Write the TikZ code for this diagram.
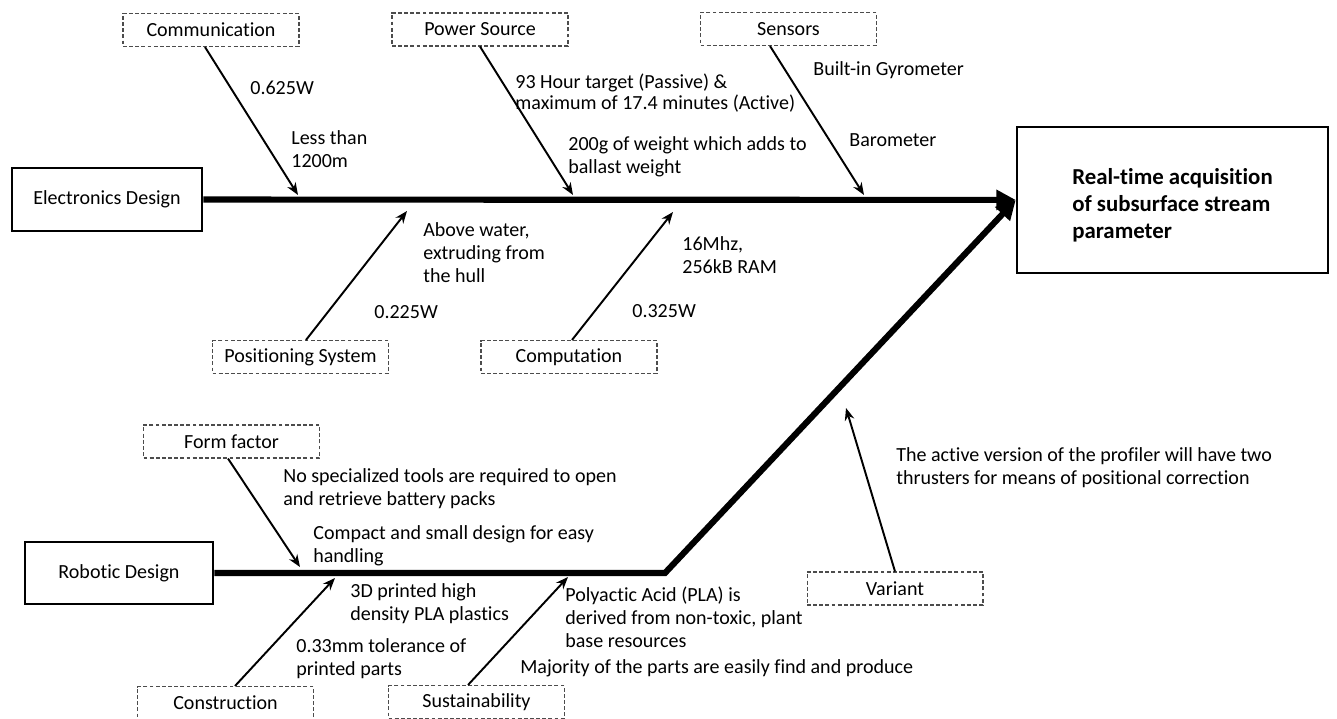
\documentclass[tikz,border=0pt]{standalone}
\usepackage{fontspec}
\setmainfont{Carlito}[Ligatures=NoCommon]
\usetikzlibrary{arrows.meta,calc,positioning}
\tikzset{%
	block/.style    = {draw, rectangle, line width=1.5pt, inner sep=0pt},
	cause/.style    = {draw=black!70, dash pattern=on 2.2pt off 1.3pt, line width=0.6pt, rectangle, minimum width=3.52cm, minimum height=0.66cm, inner sep=0pt}, % Category
	note/.style     = {anchor=west, align=left, inner sep=0pt}, % Remark
	waypoint/.style = {coordinate}, % On the spine
	bone/.style     = {line width=1.1pt, -{Stealth[length=7pt,width=5.5pt]}},
	spine/.style    = {line width=3.5pt, -{Triangle[length=11pt,width=11pt]}},
}

\begin{document}
\begin{tikzpicture}[x=0.02cm,y=-0.02cm,font=\fontsize{11.4}{13.1}\selectfont]
	\useasboundingbox (0,0) rectangle (1337,719);
	\node [block,minimum width=6.22cm,minimum height=2.92cm,align=left,font=\fontsize{13}{15.2}\selectfont\bfseries] (main) at (1172.5,200) {\rule{0pt}{15pt}Real-time acquisition\\of subsurface stream\\parameter};
	\node [block,minimum width=3.8cm,minimum height=1.26cm] (elec) at (107,199.5) {Electronics Design};
	\node [block,minimum width=3.76cm,minimum height=1.24cm] (robot) at (119,573) {Robotic Design};
	
	\node [cause] (comm) at (211,30) {Communication};
	\node [cause] (power) at (480,29.5) {Power Source};
	\node [cause] (sens) at (788.5,29) {Sensors};
	\node [cause] (pos) at (300.5,357) {Positioning System};
	\node [cause] (comp) at (569,357) {Computation};
	\node [cause] (form) at (231.5,441.5) {Form factor};
	\node [cause] (constr) at (225.5,703) {Construction};
	\node [cause] (sust) at (476.5,702) {Sustainability};
	\node [cause] (var) at (895,588.5) {Variant};
	
	\node [waypoint] (bend) at (665,573) {};
	\node [waypoint] (comm1) at (298,195) {};
	\node [waypoint] (power1) at (573,195) {};
	\node [waypoint] (sens1) at (864,195) {};
	\node [waypoint] (pos1) at (407,211) {};
	\node [waypoint] (comp1) at (673,212) {};
	\node [waypoint] (form1) at (300,567) {};
	\node [waypoint] (constr1) at (335,578) {};
	\node [waypoint] (sust1) at (568,577) {};
	\node [waypoint] (var1) at (846,408) {};
	
	\draw [spine] (elec) -- (main);
	\draw [spine] (robot) -- (bend) -- (main.west);
	
	\draw [bone] ([xshift=-0.12cm]comm.south) -- (comm1);
	\draw [bone] (power.south) -- (power1);
	\draw [bone] ([xshift=-0.37cm]sens.south) -- (sens1);
	\draw [bone] ([xshift=0.11cm]pos.north) -- (pos1);
	\draw [bone] ([xshift=0.06cm]comp.north) -- (comp1);
	\draw [bone] ([xshift=-0.07cm]form.south) -- (form1);
	\draw [bone] ([xshift=0.19cm]constr.north) -- (constr1);
	\draw [bone] ([xshift=-0.17cm]sust.north) -- (sust1);
	\draw [bone] (var.north) -- (var1);
	
	\node [note] (n1) at (250,88) {0.625W};
	\node [note] (n2) at (291,149) {Less than\\1200m};
	\node [note,font=\fontsize{11.4}{12}\selectfont] (n3) at (515,93.5) {93 Hour target (Passive) \&\\maximum of 17.4 minutes (Active)};
	\node [note] (n4) at (568,156.5) {200g of weight which adds to\\ballast weight};
	\node [note] (n5) at (813,70) {Built-in Gyrometer};
	\node [note] (n6) at (849,140) {Barometer};
	\node [note] (n7) at (423,253) {Above water,\\extruding from\\the hull};
	\node [note] (n8) at (374,312) {0.225W};
	\node [note] (n9) at (682,255) {16Mhz,\\256kB RAM};
	\node [note] (n10) at (632,311) {0.325W};
	\node [note] (n11) at (283,488.5) {No specialized tools are required to open\\and retrieve battery packs};
	\node [note] (n12) at (313,546) {Compact and small design for easy\\handling};
	\node [note] (n13) at (350,603.5) {3D printed high\\density PLA plastics};
	\node [note] (n14) at (296,658.5) {0.33mm tolerance of\\printed parts};
	\node [note] (n15) at (565,617) {Polyactic Acid (PLA) is\\derived from non-toxic, plant\\base resources};
	\node [note] (n16) at (520,668) {Majority of the parts are easily find and produce};
	\node [note] (n17) at (896,468) {The active version of the profiler will have two\\thrusters for means of positional correction};
\end{tikzpicture}
\end{document}
